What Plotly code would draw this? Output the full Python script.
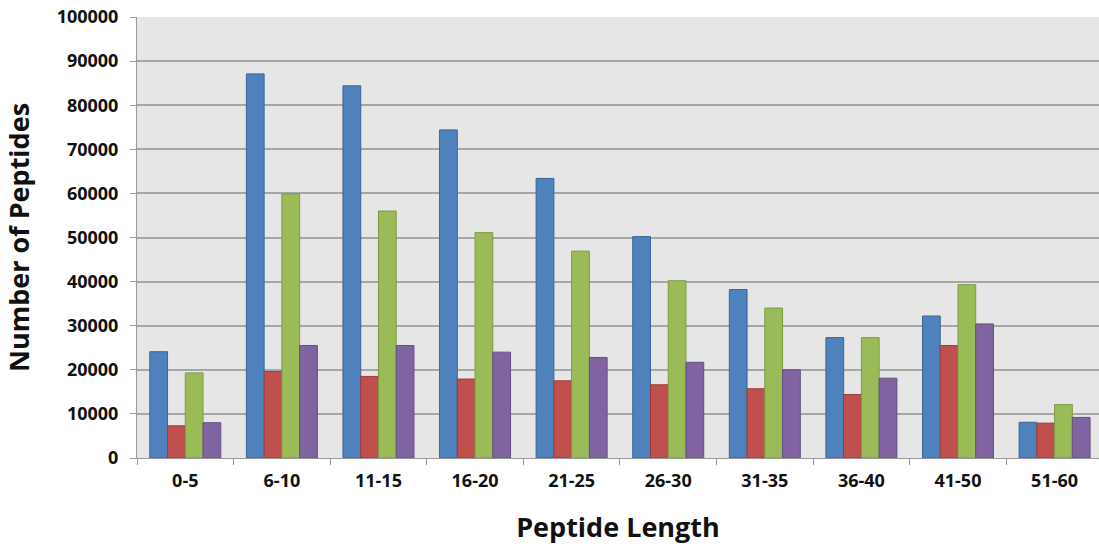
import plotly.graph_objects as go

categories = ["0-5", "6-10", "11-15", "16-20", "21-25", "26-30", "31-35", "36-40", "41-50", "51-60"]
series_a = [24100, 87100, 84400, 74400, 63400, 50200, 38200, 27300, 32200, 8100]
series_b = [7300, 19600, 18500, 17900, 17500, 16600, 15700, 14400, 25500, 7900]
series_c = [19300, 59900, 56000, 51100, 46900, 40200, 34000, 27300, 39300, 12100]
series_d = [8000, 25500, 25500, 24000, 22800, 21700, 20000, 18100, 30400, 9200]

colors = ["#4f81bd", "#c0504d", "#9bbb59", "#8064a2"]
lines = ["#3a6596", "#9c3b38", "#7d9a44", "#654e84"]

fig = go.Figure()
for vals, c, lc in zip([series_a, series_b, series_c, series_d], colors, lines):
    fig.add_trace(go.Bar(x=categories, y=vals, marker=dict(color=c, line=dict(color=lc, width=1))))

font_family = "Open Sans, Liberation Sans, sans-serif"
fig.update_layout(
    width=1099, height=546,
    margin=dict(l=137, r=0, t=17, b=88),
    paper_bgcolor="white",
    plot_bgcolor="#e6e6e6",
    barmode="group",
    bargap=0.265,
    bargroupgap=0,
    showlegend=False,
    font=dict(family=font_family, color="#111111"),
)
fig.update_xaxes(
    range=[-0.5, 9.46],
    automargin=False,
    tickson="boundaries",
    ticks="outside", ticklen=6, tickcolor="#9a9a9a",
    ticklabelstandoff=6,
    showline=True, linecolor="#9a9a9a", linewidth=1,
    showgrid=False,
    tickfont=dict(size=18, family=font_family, color="#111111", weight="bold"),
    title=dict(text="<b>Peptide Length</b>", font=dict(size=27, family=font_family, color="#111111"), standoff=27),
)
fig.update_yaxes(
    range=[0, 100000],
    automargin=False,
    dtick=10000,
    tickformat="d",
    ticks="outside", ticklen=6, tickcolor="#9a9a9a",
    ticklabelstandoff=8,
    ticklabeloverflow="allow",
    showline=True, linecolor="#9a9a9a", linewidth=1,
    showgrid=True, gridcolor="#a6a6a6", gridwidth=1.5,
    zeroline=False,
    tickfont=dict(size=18, family=font_family, color="#111111", weight="bold"),
    title=dict(text="<b>Number of Peptides</b>", font=dict(size=27, family=font_family, color="#111111"), standoff=20),
)

fig.write_html(
    "out.html",
    config={"displayModeBar": False},
    post_script="document.body.style.margin='0';document.body.style.overflow='hidden';",
)
